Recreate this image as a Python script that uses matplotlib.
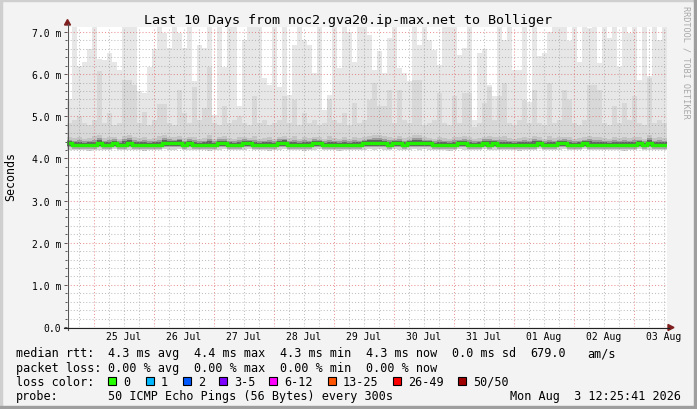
import numpy as np
import matplotlib
matplotlib.use("Agg")
import matplotlib.pyplot as plt
from matplotlib.patches import Polygon, Rectangle
from matplotlib.lines import Line2D

plt.rcParams['font.family'] = ['DejaVu Sans Mono']

# ---------------- data ----------------
title = "Last 10 Days from noc2.gva20.ip-max.net to Bolliger"
y_unit_label = "Seconds"
watermark = "RRDTOOL / TOBI OETIKER"
day_labels = ["25 Jul", "26 Jul", "27 Jul", "28 Jul", "29 Jul",
              "30 Jul", "31 Jul", "01 Aug", "02 Aug", "03 Aug"]
ytick_values = [0, 1, 2, 3, 4, 5, 6, 7]
ytick_labels = ["0.0", "1.0 m", "2.0 m", "3.0 m", "4.0 m", "5.0 m", "6.0 m", "7.0 m"]

# 2-hour bins starting Jul 24 13:12 (ms)
rtt_max = [
    5.40, 7.20, 6.20, 6.29, 6.60, 7.20, 6.35, 6.34, 6.50, 6.30, 6.10, 7.20,
    7.20, 7.20, 5.60, 5.55, 6.18, 6.60, 7.20, 6.98, 6.62, 7.20, 6.98, 6.62,
    7.20, 5.83, 6.70, 6.62, 7.20, 5.04, 7.20, 6.18, 7.20, 7.20, 5.24, 6.82,
    7.20, 7.20, 7.20, 5.90, 5.75, 7.20, 5.70, 7.20, 5.50, 6.70, 7.20, 6.82,
    6.70, 6.03, 7.20, 5.16, 5.50, 7.20, 6.15, 7.20, 7.00, 6.30, 7.20, 7.20,
    6.94, 6.10, 6.54, 6.03, 6.86, 7.20, 6.15, 6.03, 5.83, 7.20, 6.70, 7.20,
    6.82, 6.58, 6.22, 7.20, 7.20, 7.20, 6.45, 6.62, 7.20, 4.90, 6.50, 6.60,
    5.75, 5.48, 7.20, 6.82, 7.20, 6.10, 6.10, 7.20, 5.35, 7.20, 6.42, 6.50,
    7.00, 7.20, 7.20, 7.20, 6.78, 7.20, 6.30, 7.20, 7.10, 7.20, 6.26, 7.20,
    6.86, 7.20, 6.18, 7.20, 6.98, 7.20, 5.87, 7.20, 5.95, 7.20, 6.80, 7.20,
]
rtt_p90 = [
    4.85, 4.90, 5.00, 4.85, 4.80, 4.90, 6.07, 4.85, 5.08, 4.80, 4.85, 5.87,
    5.87, 5.75, 4.85, 5.10, 4.80, 4.90, 5.30, 5.30, 4.85, 4.80, 5.63, 5.08,
    4.85, 5.70, 4.90, 5.20, 6.18, 4.85, 4.80, 5.24, 4.85, 4.90, 5.00, 4.85,
    4.80, 5.47, 4.85, 4.90, 4.80, 4.85, 4.90, 5.47, 4.85, 5.39, 4.80, 5.08,
    4.85, 4.90, 4.80, 4.85, 5.40, 4.90, 4.85, 5.08, 4.80, 5.32, 4.85, 4.90,
    5.39, 5.79, 5.24, 5.24, 5.63, 4.85, 5.63, 4.90, 4.85, 5.87, 5.87, 4.80,
    4.85, 4.90, 5.55, 4.85, 4.80, 5.47, 4.85, 5.55, 5.55, 4.75, 4.85, 5.32,
    5.70, 4.90, 5.47, 5.79, 4.85, 4.80, 4.90, 5.39, 4.85, 5.63, 4.85, 4.80,
    5.79, 4.85, 4.90, 5.63, 5.39, 4.85, 4.80, 4.90, 5.75, 5.75, 5.63, 4.85,
    4.80, 5.24, 4.85, 5.32, 4.90, 5.47, 4.85, 4.80, 5.90, 4.85, 4.90, 4.85,
]
rtt_q3 = [
    4.50, 4.48, 4.52, 4.47, 4.49, 4.53, 4.55, 4.48, 4.50, 4.52, 4.47, 4.54,
    4.55, 4.51, 4.48, 4.50, 4.46, 4.49, 4.53, 4.55, 4.52, 4.50, 4.54, 4.49,
    4.52, 4.50, 4.47, 4.49, 4.55, 4.46, 4.51, 4.53, 4.48, 4.47, 4.50, 4.52,
    4.49, 4.53, 4.47, 4.48, 4.51, 4.46, 4.52, 4.54, 4.48, 4.53, 4.47, 4.51,
    4.48, 4.52, 4.50, 4.46, 4.53, 4.49, 4.47, 4.51, 4.46, 4.52, 4.48, 4.50,
    4.54, 4.56, 4.55, 4.53, 4.52, 4.49, 4.53, 4.48, 4.50, 4.55, 4.56, 4.50,
    4.49, 4.47, 4.52, 4.48, 4.46, 4.51, 4.50, 4.53, 4.52, 4.46, 4.49, 4.52,
    4.54, 4.50, 4.51, 4.53, 4.48, 4.47, 4.49, 4.52, 4.48, 4.54, 4.50, 4.47,
    4.53, 4.48, 4.50, 4.52, 4.51, 4.47, 4.48, 4.50, 4.54, 4.52, 4.51, 4.48,
    4.47, 4.50, 4.48, 4.51, 4.49, 4.52, 4.50, 4.47, 4.55, 4.49, 4.50, 4.48,
]
rtt_median = [
    4.36, 4.32, 4.32, 4.32, 4.32, 4.32, 4.36, 4.32, 4.32, 4.36, 4.32, 4.32,
    4.36, 4.32, 4.32, 4.32, 4.32, 4.32, 4.32, 4.36, 4.36, 4.36, 4.36, 4.32,
    4.36, 4.32, 4.32, 4.32, 4.32, 4.32, 4.36, 4.36, 4.32, 4.32, 4.32, 4.36,
    4.36, 4.32, 4.32, 4.32, 4.32, 4.32, 4.36, 4.36, 4.32, 4.32, 4.32, 4.32,
    4.32, 4.36, 4.36, 4.32, 4.32, 4.32, 4.32, 4.32, 4.32, 4.32, 4.32, 4.36,
    4.36, 4.36, 4.36, 4.36, 4.32, 4.36, 4.36, 4.32, 4.36, 4.36, 4.36, 4.36,
    4.36, 4.32, 4.32, 4.32, 4.32, 4.32, 4.36, 4.36, 4.32, 4.32, 4.32, 4.36,
    4.32, 4.36, 4.32, 4.32, 4.32, 4.32, 4.32, 4.32, 4.32, 4.32, 4.36, 4.32,
    4.32, 4.32, 4.36, 4.36, 4.32, 4.32, 4.32, 4.36, 4.32, 4.32, 4.32, 4.32,
    4.32, 4.32, 4.32, 4.32, 4.32, 4.32, 4.36, 4.32, 4.36, 4.32, 4.32, 4.32,
]
rtt_min = [
    4.20, 4.19, 4.21, 4.20, 4.18, 4.20, 4.21, 4.19, 4.20, 4.22, 4.20, 4.19,
    4.21, 4.20, 4.19, 4.18, 4.20, 4.21, 4.20, 4.22, 4.21, 4.20, 4.22, 4.19,
    4.21, 4.20, 4.19, 4.20, 4.18, 4.20, 4.21, 4.22, 4.20, 4.19, 4.20, 4.21,
    4.22, 4.20, 4.19, 4.20, 4.18, 4.19, 4.21, 4.22, 4.20, 4.19, 4.20, 4.18,
    4.20, 4.21, 4.22, 4.20, 4.19, 4.20, 4.18, 4.20, 4.19, 4.20, 4.19, 4.21,
    4.22, 4.21, 4.22, 4.21, 4.20, 4.22, 4.21, 4.19, 4.21, 4.22, 4.21, 4.22,
    4.21, 4.20, 4.19, 4.20, 4.18, 4.19, 4.22, 4.21, 4.20, 4.19, 4.20, 4.22,
    4.20, 4.21, 4.19, 4.20, 4.19, 4.20, 4.18, 4.20, 4.19, 4.20, 4.22, 4.20,
    4.19, 4.20, 4.21, 4.22, 4.20, 4.19, 4.20, 4.22, 4.20, 4.19, 4.20, 4.19,
    4.20, 4.19, 4.20, 4.18, 4.20, 4.19, 4.22, 4.20, 4.21, 4.19, 4.20, 4.19,
]

legend_row1 = ["median rtt:", "4.3 ms avg", "4.4 ms max", "4.3 ms min",
               "4.3 ms now", "0.0 ms sd", "679.0", "am/s"]
legend_row2 = ["packet loss:", "0.00 % avg", "0.00 % max", "0.00 % min", "0.00 % now"]
loss_title = "loss color:"
loss_labels = ["0", "1", "2", "3-5", "6-12", "13-25", "26-49", "50/50"]
loss_colors = ["#26ff00", "#00b8ff", "#0059ff", "#7e00ff",
               "#ff00ff", "#ff5500", "#ff0000", "#a10000"]
probe_title = "probe:"
probe_text = "50 ICMP Echo Pings (56 Bytes) every 300s"
stamp_text = "Mon Aug  3 12:25:41 2026"

# ---------------- layout ----------------
W, H = 697, 410
fig = plt.figure(figsize=(W / 100, H / 100), dpi=100)
fig.patch.set_facecolor('#f3f3f3')


def fx(x):
    return x / W


def fy(y):
    return 1 - y / H


PL, PR, PT, PB = 67, 667, 28, 328
PX_PER_MS = 295 / 7.0
ax = fig.add_axes([fx(PL), fy(PB), (PR - PL) / W, (PB - PT) / H])
ax.set_facecolor('white')
X0 = -0.45          # days relative to 25 Jul 00:00
ax.set_xlim(X0, X0 + 10)
ax.set_ylim(0, (PB - PT) / PX_PER_MS)
for s in ax.spines.values():
    s.set_visible(False)

n = len(rtt_max)
edges = X0 + np.arange(n + 1) * (2 / 24)
mx = np.array(rtt_max)
p90 = np.array(rtt_p90)
q3 = np.array(rtt_q3)
med = np.array(rtt_median)
mn = np.array(rtt_min)

# smoke
ax.stairs(mx, edges, baseline=p90, fill=True, color='#e7e7e7', lw=0, zorder=1)
ax.stairs(p90, edges, baseline=q3, fill=True, color='#d8d8d8', lw=0, zorder=1)
d = q3 - med
ax.stairs(q3, edges, baseline=med + 0.6 * d, fill=True, color='#c4c4c4', lw=0, zorder=1)
ax.stairs(med + 0.6 * d, edges, baseline=med + 0.38 * d, fill=True, color='#9c9c9c', lw=0, zorder=1)
ax.stairs(med + 0.38 * d, edges, baseline=med, fill=True, color='#626262', lw=0, zorder=1)
ax.stairs(med, edges, baseline=med - 0.06, fill=True, color='#5e5e5e', lw=0, zorder=1)
ax.stairs(med - 0.06, edges, baseline=med - 0.1, fill=True, color='#a8a8a8', lw=0, zorder=1)
ax.stairs(med - 0.1, edges, baseline=mn, fill=True, color='#d2d2d2', lw=0, zorder=1)

# grid
minor_c = (0.55, 0.55, 0.55, 0.55)
major_c = (0.87, 0.31, 0.31, 0.6)
dash = (0, (1, 2))
for k in range(-1, 40):
    t = k * 0.25
    if X0 < t < X0 + 10:
        is_major = (k % 4 == 0)
        ax.axvline(t, color=major_c if is_major else minor_c, lw=0.75,
                   linestyle=dash, zorder=2)
for k in range(1, 36):
    v = k * 0.2
    is_major = (k % 5 == 0)
    ax.axhline(v, color=major_c if is_major else minor_c, lw=0.75,
               linestyle=dash, zorder=2)

# median line
ax.stairs(med, edges, baseline=None, color='#22f000', lw=2.4, zorder=3)

# ticks
ax.set_yticks(ytick_values, ytick_labels)
ax.set_yticks(np.arange(0, 7.01, 0.2), minor=True)
ax.tick_params(axis='y', which='major', length=2.2, width=0.7, color='#555555',
               pad=2.2, labelsize=7)
ax.tick_params(axis='y', which='minor', length=1.4, width=0.7, color='#555555')
ax.set_xticks([i + 0.5 for i in range(len(day_labels))], day_labels)
ax.tick_params(axis='x', which='both', length=0, pad=3.2, labelsize=7)

# axes lines & arrows
fig.add_artist(Line2D([fx(67.5), fx(67.5)], [fy(331), fy(25)], color='#555555', lw=0.8))
fig.add_artist(Line2D([fx(64), fx(669)], [fy(328.5), fy(328.5)], color='#222222', lw=0.8))
fig.add_artist(Polygon([(fx(64.5), fy(26)), (fx(70.5), fy(26)), (fx(67.5), fy(20.5))],
                       closed=True, color='#7f1f1f', transform=fig.transFigure))
fig.add_artist(Polygon([(fx(668), fy(325.5)), (fx(668), fy(331.5)), (fx(674), fy(328.5))],
                       closed=True, color='#7f1f1f', transform=fig.transFigure))

# texts
fig.text(fx(348.5), fy(24), title, ha='center', va='baseline', fontsize=9.6)
fig.text(fx(11), fy(177), y_unit_label, rotation=90, ha='center', va='center', fontsize=8.4)
fig.text(fx(686), fy(62), watermark, rotation=270, ha='center', va='center',
         fontsize=6.1, color='#a8a8a8')

row1_x = [16, 107.5, 194, 280, 366, 451.5, 530.5, 587]
for s, x in zip(legend_row1, row1_x):
    fig.text(fx(x), fy(357.5), s, ha='left', va='baseline', fontsize=8.5)
row2_x = [16, 107.5, 194, 280, 366]
for s, x in zip(legend_row2, row2_x):
    fig.text(fx(x), fy(371.7), s, ha='left', va='baseline', fontsize=8.5)
fig.text(fx(16), fy(385.9), loss_title, ha='left', va='baseline', fontsize=8.5)
box_x = [108.3, 145.7, 182.7, 219.3, 269.3, 327.5, 393.3, 458.3]
for lab, col, bx in zip(loss_labels, loss_colors, box_x):
    fig.add_artist(Rectangle((fx(bx), fy(386)), 8 / W, 8 / H, facecolor=col,
                             edgecolor='black', lw=0.8, transform=fig.transFigure))
    fig.text(fx(bx + 15), fy(385.9), lab, ha='left', va='baseline', fontsize=8.5)
fig.text(fx(16), fy(400.1), probe_title, ha='left', va='baseline', fontsize=8.5)
fig.text(fx(107.5), fy(400.1), probe_text, ha='left', va='baseline', fontsize=8.5)
fig.text(fx(681), fy(400.1), stamp_text, ha='right', va='baseline', fontsize=8.5)

# 3D frame
fig.add_artist(Rectangle((0, fy(2)), 1, 2 / H, color='#cfcfcf', transform=fig.transFigure))
fig.add_artist(Rectangle((0, 0), 2 / W, 1, color='#cfcfcf', transform=fig.transFigure))
fig.add_artist(Rectangle((0, 0), 1, 3 / H, color='#9e9e9e', transform=fig.transFigure))
fig.add_artist(Rectangle((1 - 3 / W, 0), 3 / W, 1, color='#9e9e9e', transform=fig.transFigure))

fig.savefig('out.png', dpi=100, facecolor=fig.get_facecolor())
